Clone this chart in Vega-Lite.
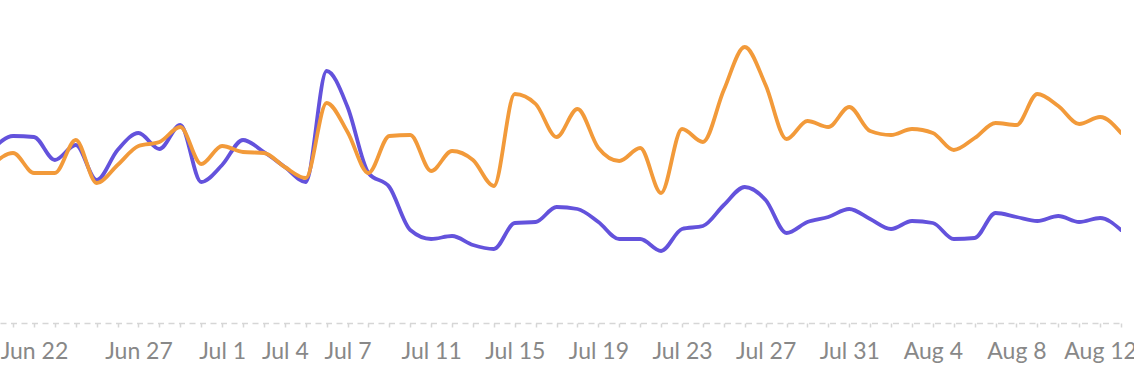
{
  "$schema": "https://vega.github.io/schema/vega-lite/v6.json",
  "autosize": {"type": "none"},
  "padding": {"left": 0, "top": 0, "right": 13, "bottom": 55},
  "width": 1121,
  "height": 323,
  "background": "#ffffff",
  "config": {"view": {"stroke": null}, "font": "Lato"},
  "data": {
    "values": [
      {"date":"2024-06-20T00:00:00","series":"A","value":173},{"date":"2024-06-21T00:00:00","series":"A","value":187},{"date":"2024-06-22T00:00:00","series":"A","value":186},{"date":"2024-06-23T00:00:00","series":"A","value":163},{"date":"2024-06-24T00:00:00","series":"A","value":178},{"date":"2024-06-25T00:00:00","series":"A","value":143},{"date":"2024-06-26T00:00:00","series":"A","value":173},{"date":"2024-06-27T00:00:00","series":"A","value":190},{"date":"2024-06-28T00:00:00","series":"A","value":174},{"date":"2024-06-29T00:00:00","series":"A","value":198},{"date":"2024-06-30T00:00:00","series":"A","value":141},
      {"date":"2024-07-01T00:00:00","series":"A","value":158},{"date":"2024-07-02T00:00:00","series":"A","value":183},{"date":"2024-07-03T00:00:00","series":"A","value":171},{"date":"2024-07-04T00:00:00","series":"A","value":156},{"date":"2024-07-05T00:00:00","series":"A","value":141},{"date":"2024-07-06T00:00:00","series":"A","value":252},{"date":"2024-07-07T00:00:00","series":"A","value":216},{"date":"2024-07-08T00:00:00","series":"A","value":150},{"date":"2024-07-09T00:00:00","series":"A","value":136},{"date":"2024-07-10T00:00:00","series":"A","value":93},
      {"date":"2024-07-11T00:00:00","series":"A","value":84},{"date":"2024-07-12T00:00:00","series":"A","value":87},{"date":"2024-07-13T00:00:00","series":"A","value":78},{"date":"2024-07-14T00:00:00","series":"A","value":74},{"date":"2024-07-15T00:00:00","series":"A","value":100},{"date":"2024-07-16T00:00:00","series":"A","value":101},{"date":"2024-07-17T00:00:00","series":"A","value":116},{"date":"2024-07-18T00:00:00","series":"A","value":114},{"date":"2024-07-19T00:00:00","series":"A","value":101},{"date":"2024-07-20T00:00:00","series":"A","value":84},
      {"date":"2024-07-21T00:00:00","series":"A","value":84},{"date":"2024-07-22T00:00:00","series":"A","value":72},{"date":"2024-07-23T00:00:00","series":"A","value":94},{"date":"2024-07-24T00:00:00","series":"A","value":97},{"date":"2024-07-25T00:00:00","series":"A","value":118},{"date":"2024-07-26T00:00:00","series":"A","value":136},{"date":"2024-07-27T00:00:00","series":"A","value":123},{"date":"2024-07-28T00:00:00","series":"A","value":90},{"date":"2024-07-29T00:00:00","series":"A","value":101},{"date":"2024-07-30T00:00:00","series":"A","value":106},
      {"date":"2024-07-31T00:00:00","series":"A","value":114},{"date":"2024-08-01T00:00:00","series":"A","value":104},{"date":"2024-08-02T00:00:00","series":"A","value":94},{"date":"2024-08-03T00:00:00","series":"A","value":102},{"date":"2024-08-04T00:00:00","series":"A","value":100},{"date":"2024-08-05T00:00:00","series":"A","value":84},{"date":"2024-08-06T00:00:00","series":"A","value":85},{"date":"2024-08-07T00:00:00","series":"A","value":110},{"date":"2024-08-08T00:00:00","series":"A","value":106},{"date":"2024-08-09T00:00:00","series":"A","value":102},
      {"date":"2024-08-10T00:00:00","series":"A","value":107},{"date":"2024-08-11T00:00:00","series":"A","value":101},{"date":"2024-08-12T00:00:00","series":"A","value":105},{"date":"2024-08-13T00:00:00","series":"A","value":93},
      {"date":"2024-06-20T00:00:00","series":"B","value":158},{"date":"2024-06-21T00:00:00","series":"B","value":170},{"date":"2024-06-22T00:00:00","series":"B","value":150},{"date":"2024-06-23T00:00:00","series":"B","value":150},{"date":"2024-06-24T00:00:00","series":"B","value":183},{"date":"2024-06-25T00:00:00","series":"B","value":140},{"date":"2024-06-26T00:00:00","series":"B","value":158},{"date":"2024-06-27T00:00:00","series":"B","value":177},{"date":"2024-06-28T00:00:00","series":"B","value":181},{"date":"2024-06-29T00:00:00","series":"B","value":196},{"date":"2024-06-30T00:00:00","series":"B","value":159},
      {"date":"2024-07-01T00:00:00","series":"B","value":177},{"date":"2024-07-02T00:00:00","series":"B","value":171},{"date":"2024-07-03T00:00:00","series":"B","value":170},{"date":"2024-07-04T00:00:00","series":"B","value":156},{"date":"2024-07-05T00:00:00","series":"B","value":145},{"date":"2024-07-06T00:00:00","series":"B","value":220},{"date":"2024-07-07T00:00:00","series":"B","value":191},{"date":"2024-07-08T00:00:00","series":"B","value":150},{"date":"2024-07-09T00:00:00","series":"B","value":187},{"date":"2024-07-10T00:00:00","series":"B","value":188},
      {"date":"2024-07-11T00:00:00","series":"B","value":152},{"date":"2024-07-12T00:00:00","series":"B","value":172},{"date":"2024-07-13T00:00:00","series":"B","value":163},{"date":"2024-07-14T00:00:00","series":"B","value":137},{"date":"2024-07-15T00:00:00","series":"B","value":229},{"date":"2024-07-16T00:00:00","series":"B","value":219},{"date":"2024-07-17T00:00:00","series":"B","value":186},{"date":"2024-07-18T00:00:00","series":"B","value":214},{"date":"2024-07-19T00:00:00","series":"B","value":175},{"date":"2024-07-20T00:00:00","series":"B","value":162},
      {"date":"2024-07-21T00:00:00","series":"B","value":175},{"date":"2024-07-22T00:00:00","series":"B","value":130},{"date":"2024-07-23T00:00:00","series":"B","value":194},{"date":"2024-07-24T00:00:00","series":"B","value":181},{"date":"2024-07-25T00:00:00","series":"B","value":233},{"date":"2024-07-26T00:00:00","series":"B","value":276},{"date":"2024-07-27T00:00:00","series":"B","value":238},{"date":"2024-07-28T00:00:00","series":"B","value":184},{"date":"2024-07-29T00:00:00","series":"B","value":202},{"date":"2024-07-30T00:00:00","series":"B","value":196},
      {"date":"2024-07-31T00:00:00","series":"B","value":216},{"date":"2024-08-01T00:00:00","series":"B","value":192},{"date":"2024-08-02T00:00:00","series":"B","value":188},{"date":"2024-08-03T00:00:00","series":"B","value":194},{"date":"2024-08-04T00:00:00","series":"B","value":190},{"date":"2024-08-05T00:00:00","series":"B","value":173},{"date":"2024-08-06T00:00:00","series":"B","value":185},{"date":"2024-08-07T00:00:00","series":"B","value":200},{"date":"2024-08-08T00:00:00","series":"B","value":198},{"date":"2024-08-09T00:00:00","series":"B","value":229},
      {"date":"2024-08-10T00:00:00","series":"B","value":217},{"date":"2024-08-11T00:00:00","series":"B","value":199},{"date":"2024-08-12T00:00:00","series":"B","value":206},{"date":"2024-08-13T00:00:00","series":"B","value":190}
    ]
  },
  "mark": {"type": "line", "interpolate": "monotone", "strokeWidth": 3.8, "clip": true, "strokeCap": "round", "strokeJoin": "round"},
  "encoding": {
    "x": {
      "field": "date",
      "type": "temporal",
      "title": null,
      "scale": {
        "domain": [
          {"year": 2024, "month": "jun", "date": 20, "hours": 9},
          {"year": 2024, "month": "aug", "date": 13}
        ],
        "nice": false
      },
      "axis": {
        "tickCount": {"interval": "day", "step": 1},
        "grid": false,
        "domainColor": "#d6d6d6",
        "domainDash": [6, 4.5],
        "domainWidth": 1.5,
        "tickColor": "#d6d6d6",
        "tickSize": 4,
        "tickWidth": 1.5,
        "labelFont": "Lato",
        "labelFontSize": 23,
        "labelColor": "#888888",
        "labelPadding": 13,
        "labelOverlap": false,
        "labelBound": false,
        "labelFlush": false,
        "labelExpr": "indexof(['Jun 22','Jun 27','Jul 1','Jul 4','Jul 7','Jul 11','Jul 15','Jul 19','Jul 23','Jul 27','Jul 31','Aug 4','Aug 8','Aug 12'], timeFormat(datum.value, '%b %-d')) >= 0 ? timeFormat(datum.value, '%b %-d') : ''"
      }
    },
    "y": {
      "field": "value",
      "type": "quantitative",
      "scale": {"domain": [0, 323], "nice": false, "zero": false},
      "axis": null
    },
    "color": {
      "field": "series",
      "type": "nominal",
      "scale": {"domain": ["A", "B"], "range": ["#6352dc", "#f29a3a"]},
      "legend": null
    },
    "order": {"field": "series"}
  }
}
